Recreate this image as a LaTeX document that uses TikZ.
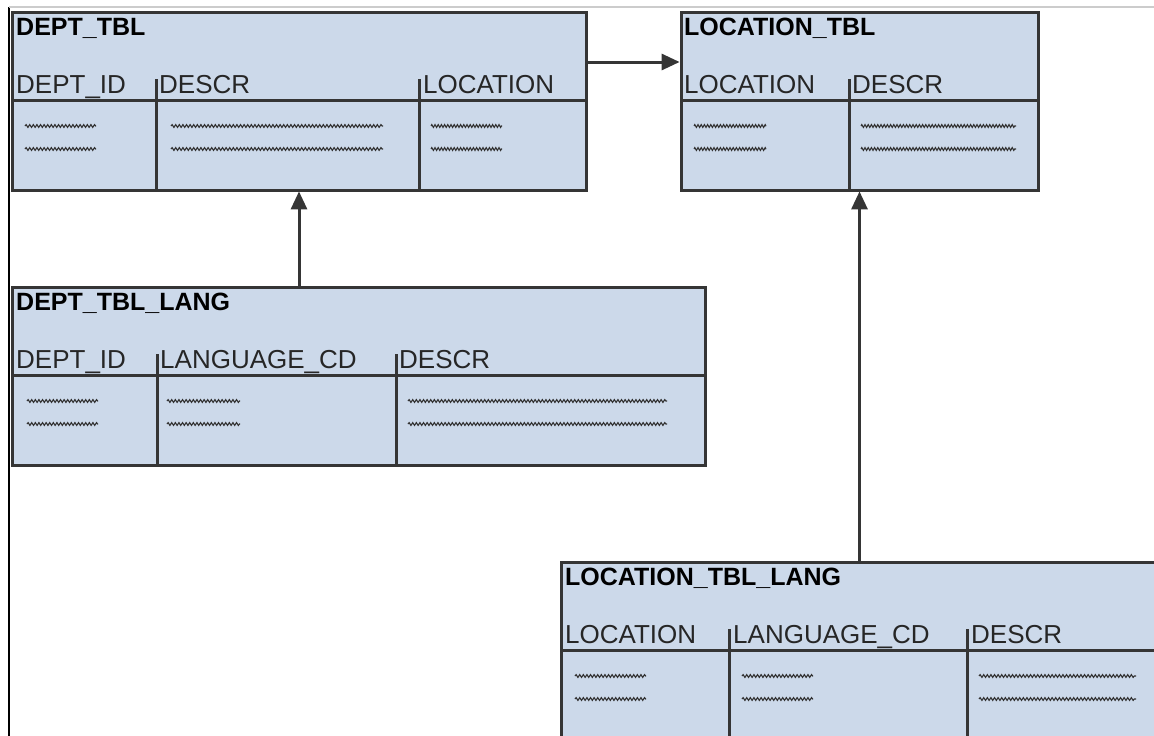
\documentclass[tikz,border=0pt]{standalone}
\usepackage{fontspec}
\setmainfont{Liberation Sans}
\usetikzlibrary{positioning,arrows.meta,decorations.pathmorphing,shadows}

\definecolor{tblfill}{HTML}{CCD9EA}
\definecolor{tblline}{HTML}{353535}

\begin{document}
\begin{tikzpicture}[
    x=1pt, y=-1pt,
    >={Triangle[length=18pt,width=16pt]},
    tbl/.style={
        rectangle,
        draw=tblline,
        line width=3pt,
        fill=tblfill,
        inner sep=0pt,
        outer sep=0pt,
        minimum height=178pt,
        drop shadow={shadow xshift=1.5pt, shadow yshift=-1.5pt, fill=black!40, opacity=0.6}
    },
    ttl/.style={anchor=base west, inner sep=0pt, font=\bfseries\fontsize{25}{30}\selectfont},
    hdr/.style={anchor=base west, inner sep=0pt, font=\fontsize{26}{31}\selectfont, text=black!85},
    sep/.style={draw=tblline, line width=3pt},
    wave/.style={draw=black!80, line width=1.1pt, decorate,
        decoration={snake, amplitude=1.4pt, segment length=3.6pt}},
    xwave/.style={draw=black!80, line width=1.1pt, decorate,
        decoration={zigzag, amplitude=1.4pt, segment length=3.2pt}},
    arr/.style={->, draw=tblline, line width=3pt, shorten >=1.4pt}
]
\useasboundingbox (0,0) rectangle (1154,736);
\clip (0,0) rectangle (1154,736);

\draw[black, line width=1.6pt] (9,7) -- (9,736);
\draw[black!20, line width=1.2pt] (9,7) -- (1154,7);

\node[tbl, minimum width=574pt, anchor=north west] (dept) at (12,12) {};
\node[tbl, minimum width=357pt, right=95pt of dept] (loc) {};
\node[tbl, minimum width=693pt, below=97pt of dept.south west, anchor=north west] (deptlang) {};
\node[tbl, minimum width=640pt, anchor=north west] (loclang) at (561,562) {};

\begin{scope}[shift={(dept.north west)}]
    \node[ttl] (deptT) at (4,23) {DEPT\_TBL};
    \node[hdr] (deptH1) at (4,81) {DEPT\_ID};
    \node[hdr] (deptH2) at (147,81) {DESCR};
    \node[hdr] (deptH3) at (411,81) {LOCATION};
    \draw[sep] (0,88) -- (574,88);
    \draw[sep] (144,67) -- (144,178);
    \draw[sep] (407,67) -- (407,178);
    \foreach \y in {114,137} {
        \draw[wave] (13,\y) -- (84,\y);
        \draw[wave] (159,\y) -- (371,\y);
        \draw[xwave] (419,\y) -- (490,\y);
    }
\end{scope}

\begin{scope}[shift={(loc.north west)}]
    \node[ttl] (locT) at (3,23) {LOCATION\_TBL};
    \node[hdr] (locH1) at (3,81) {LOCATION};
    \node[hdr] (locH2) at (171,81) {DESCR};
    \draw[sep] (0,88) -- (357,88);
    \draw[sep] (168,67) -- (168,178);
    \foreach \y in {114,137} {
        \draw[xwave] (13,\y) -- (85,\y);
        \draw[xwave] (180,\y) -- (335,\y);
    }
\end{scope}

\begin{scope}[shift={(deptlang.north west)}]
    \node[ttl] (deptlangT) at (4,23) {DEPT\_TBL\_LANG};
    \node[hdr] (deptlangH1) at (4,81) {DEPT\_ID};
    \node[hdr] (deptlangH2) at (148,81) {LANGUAGE\_CD};
    \node[hdr] (deptlangH3) at (387,81) {DESCR};
    \draw[sep] (0,88) -- (693,88);
    \draw[sep] (145,67) -- (145,178);
    \draw[sep] (384,67) -- (384,178);
    \foreach \y in {114,137} {
        \draw[wave] (15,\y) -- (86,\y);
        \draw[wave] (155,\y) -- (228,\y);
        \draw[wave] (396,\y) -- (655,\y);
    }
\end{scope}

\begin{scope}[shift={(loclang.north west)}]
    \node[ttl] (loclangT) at (4,23) {LOCATION\_TBL\_LANG};
    \node[hdr] (loclangH1) at (4,81) {LOCATION};
    \node[hdr] (loclangH2) at (172,81) {LANGUAGE\_CD};
    \node[hdr] (loclangH3) at (410,81) {DESCR};
    \draw[sep] (0,88) -- (640,88);
    \draw[sep] (168,67) -- (168,178);
    \draw[sep] (406,67) -- (406,178);
    \foreach \y in {114,137} {
        \draw[wave] (14,\y) -- (85,\y);
        \draw[wave] (181,\y) -- (252,\y);
        \draw[wave] (418,\y) -- (575,\y);
    }
\end{scope}

\draw[arr] ([yshift=39pt]dept.east) -- ([yshift=39pt]loc.west);
\draw[arr] (deptlang.north -| dept.south) -- (dept.south);
\draw[arr] (loclang.north -| loc.south) -- (loc.south);

\end{tikzpicture}
\end{document}
